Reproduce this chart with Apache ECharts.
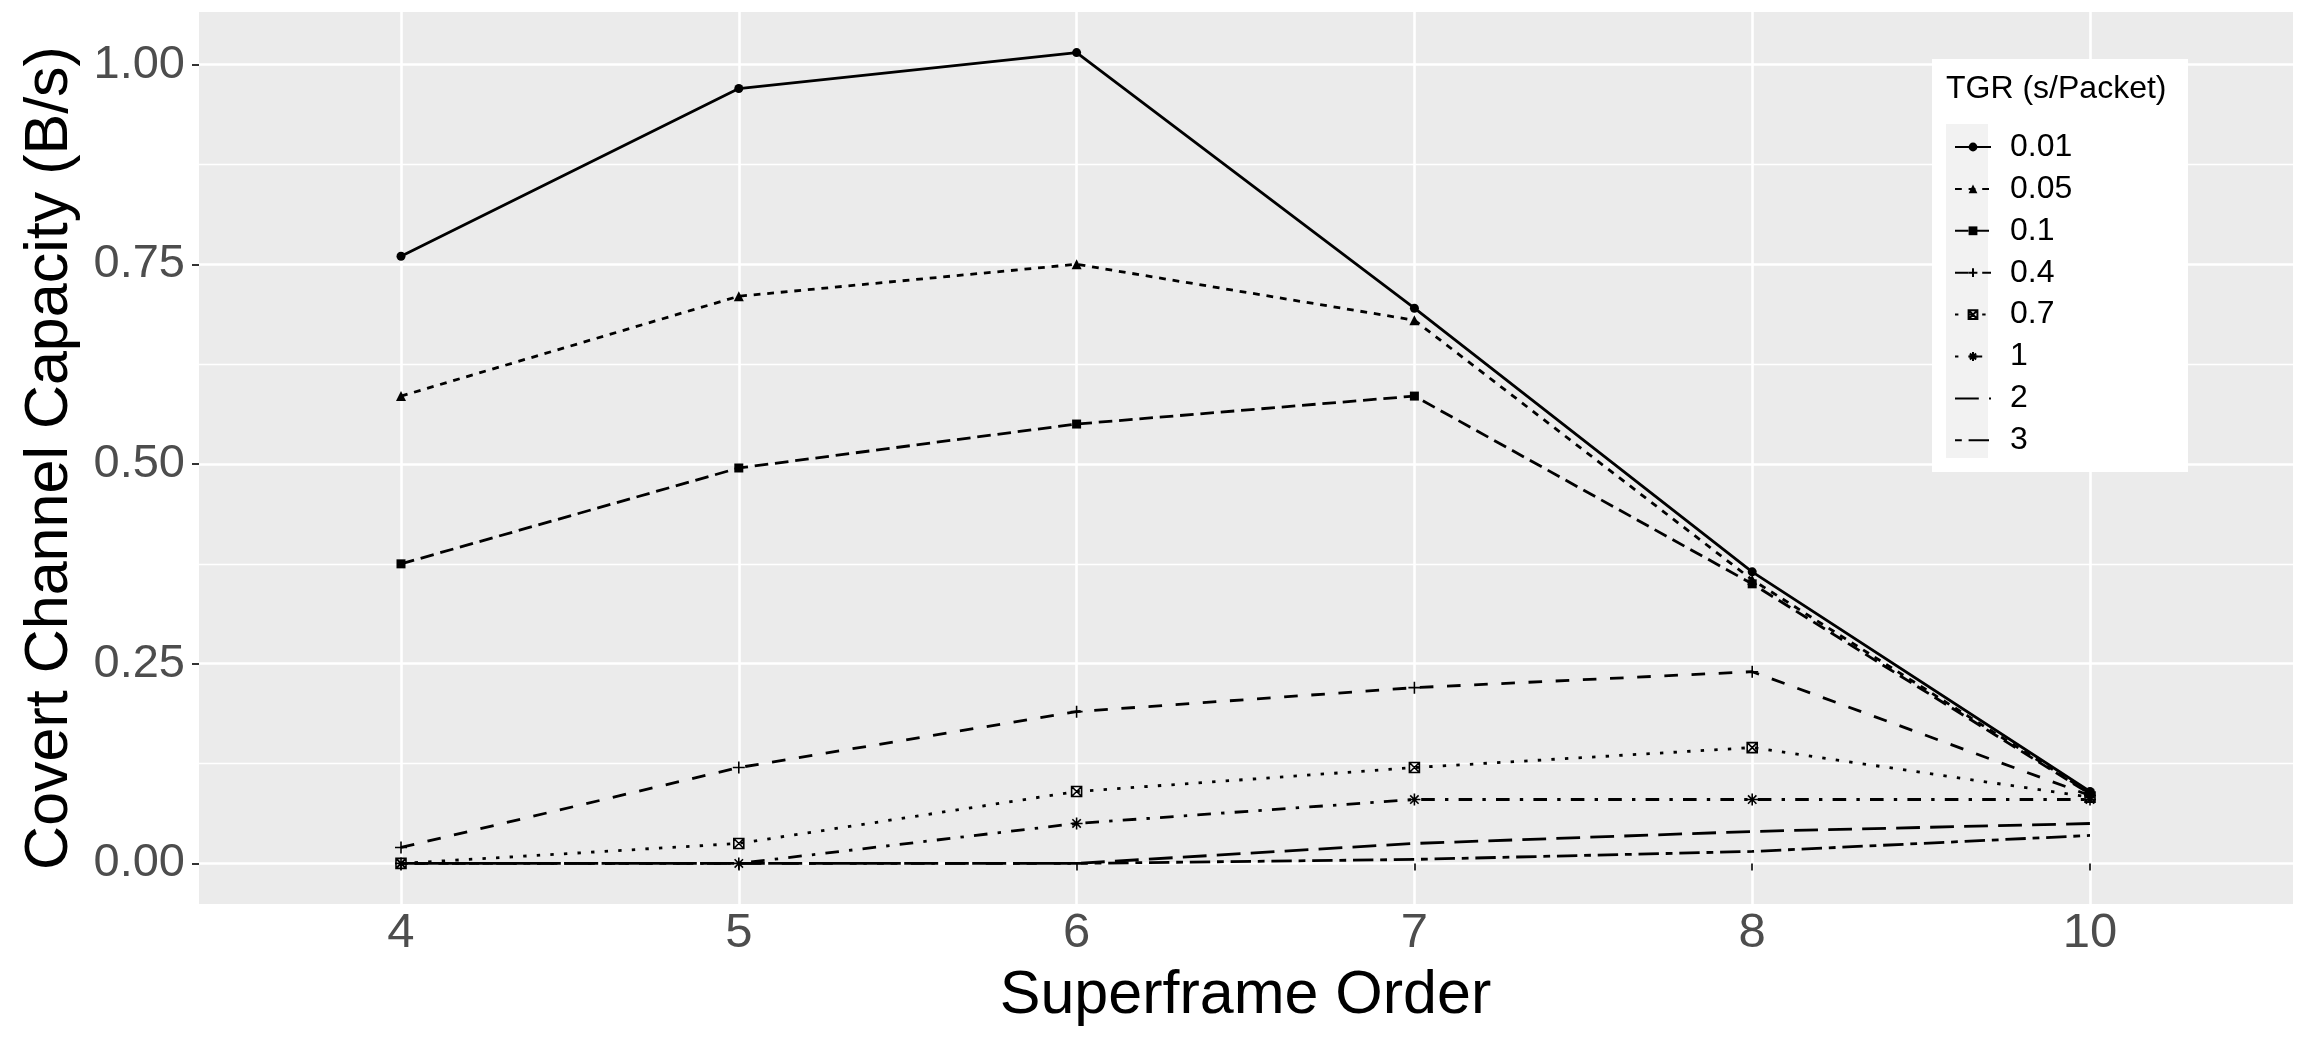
<!DOCTYPE html>
<html>
<head>
<meta charset="utf-8">
<script src="https://cdn.jsdelivr.net/npm/echarts@6/dist/echarts.min.js"></script>
<style>
html, body { margin: 0; padding: 0; background: #fff; }
#chart { width: 2315px; height: 1041px; }
</style>
</head>
<body>
<div id="chart"></div>
<script>
// superframe orders (discrete x axis)
const orders = ['4', '5', '6', '7', '8', '10'];
// TGR groups, one series each
const tgrNames = ['0.01', '0.05', '0.1', '0.4', '0.7', '1', '2', '3'];

const tgr001 = [0.76, 0.97, 1.015, 0.695, 0.365, 0.09];
const tgr005 = [0.585, 0.71, 0.75, 0.68, 0.355, 0.088];
const tgr01 = [0.375, 0.495, 0.55, 0.585, 0.35, 0.087];
const tgr04 = [0.02, 0.12, 0.19, 0.22, 0.24, 0.085];
const tgr07 = [0, 0.025, 0.09, 0.12, 0.145, 0.083];
const tgr1 = [0, 0, 0.05, 0.08, 0.08, 0.08];
const tgr2 = [0, 0, 0, 0.025, 0.04, 0.05];
const tgr3 = [0, 0, 0, 0.005, 0.015, 0.035];

const yTicks = [0, 0.25, 0.5, 0.75, 1];

const values = [tgr001, tgr005, tgr01, tgr04, tgr07, tgr1, tgr2, tgr3];

// ggplot-like range expansion (5% of data range)
const yMin = -0.0508, yMax = 1.0658;

const font = '"Liberation Sans", Arial, Helvetica, sans-serif';
const u = 3.4; // dash unit
const plusPath = 'path://M10,0L10,20M0,10L20,10';
const boxXPath = 'path://M0,0L20,0L20,20L0,20ZM0,0L20,20M0,20L20,0';
const starPath = 'path://M10,0L10,20M0,10L20,10M3,3L17,17M3,17L17,3';

const looks = [
  { dash: 'solid', symbol: 'circle', size: 9, stroke: false },
  { dash: [2 * u, 2 * u], symbol: 'triangle', size: 10, stroke: false },
  { dash: [4 * u, 2 * u], symbol: 'rect', size: 9, stroke: false },
  { dash: [4 * u, 4 * u], symbol: plusPath, size: 12, stroke: true },
  { dash: [1 * u, 3 * u], symbol: boxXPath, size: 10, stroke: true },
  { dash: [1 * u, 3 * u, 4 * u, 3 * u], symbol: starPath, size: 12, stroke: true },
  { dash: [7 * u, 3 * u], symbol: 'none', size: 0, stroke: false },
  { dash: [2 * u, 2 * u, 6 * u, 2 * u], symbol: 'none', size: 0, stroke: false }
];

const series = tgrNames.map((name, i) => {
  const lk = looks[i];
  return {
    name: name,
    type: 'line',
    xAxisIndex: 1,
    yAxisIndex: 1,
    data: values[i],
    symbol: lk.symbol,
    symbolSize: lk.size,
    showSymbol: lk.symbol !== 'none',
    clip: false,
    lineStyle: { color: '#000', width: 2.8, type: lk.dash, cap: 'butt' },
    itemStyle: lk.stroke
      ? { color: 'rgba(0,0,0,0)', borderColor: '#000', borderWidth: 1.6 }
      : { color: '#000', borderWidth: 0 },
    emphasis: { disabled: true },
    z: 2
  };
});

// legend entries: hide the marker for groups drawn without points
const legendData = tgrNames.map((name, i) => looks[i].symbol === 'none'
  ? { name: name, itemStyle: { color: 'rgba(0,0,0,0)', borderColor: 'rgba(0,0,0,0)', borderWidth: 0 } }
  : { name: name });

const chart = echarts.init(document.getElementById('chart'));
chart.setOption({
  animation: false,
  backgroundColor: '#fff',
  grid: [
    { left: 199, right: 22, top: 12, bottom: 137, show: true, backgroundColor: '#EBEBEB', borderWidth: 0 },
    { left: 401, right: 225, top: 12, bottom: 137 }
  ],
  title: {
    text: 'TGR (s/Packet)',
    left: 1946, top: 73, padding: 0,
    textStyle: { fontFamily: font, fontSize: 32, fontWeight: 'normal', color: '#000' },
    z: 10
  },
  legend: {
    orient: 'vertical',
    left: 1949, top: 126,
    itemWidth: 36, itemHeight: 11, itemGap: 9.9,
    selectedMode: false,
    data: legendData,
    textStyle: { fontFamily: font, fontSize: 32, color: '#000', padding: [0, 0, 0, 14] },
    z: 10
  },
  graphic: [
    { type: 'rect', z: 3, shape: { x: 1932, y: 59, width: 256, height: 413 }, style: { fill: '#fff' } },
    { type: 'rect', z: 4, shape: { x: 1946, y: 124, width: 42, height: 334 }, style: { fill: '#F2F2F2' } }
  ],
  xAxis: [
    { gridIndex: 0, type: 'value', min: 0, max: 1, show: false },
    {
      gridIndex: 1, type: 'category', data: orders, boundaryGap: false,
      name: 'Superframe Order', nameLocation: 'middle', nameGap: 62,
      nameTextStyle: { fontFamily: font, fontSize: 61, color: '#000' },
      axisLine: { show: false },
      axisTick: { show: true, length: 7, lineStyle: { color: '#333', width: 2 } },
      axisLabel: { fontFamily: font, fontSize: 49, color: '#4D4D4D', margin: 5 },
      splitLine: { show: true, lineStyle: { color: '#fff', width: 2.6 } }
    }
  ],
  yAxis: [
    {
      gridIndex: 0, type: 'value', min: yMin, max: yMax, minInterval: 0.25, maxInterval: 0.25,
      name: 'Covert Channel Capacity (B/s)', nameLocation: 'middle', nameGap: 118,
      nameTextStyle: { fontFamily: font, fontSize: 61, color: '#000' },
      axisLine: { show: false },
      axisTick: { show: true, length: 7, lineStyle: { color: '#333', width: 2 }, customValues: yTicks },
      axisLabel: {
        fontFamily: font, fontSize: 47, color: '#4D4D4D', margin: 14, customValues: yTicks,
        formatter: v => (Math.abs(v / 0.25 - Math.round(v / 0.25)) < 1e-6 ? v.toFixed(2) : '')
      },
      splitLine: { show: true, lineStyle: { color: '#fff', width: 2.6 } },
      minorTick: { show: false, splitNumber: 2 },
      minorSplitLine: { show: true, lineStyle: { color: '#fff', width: 1.3 } }
    },
    { gridIndex: 1, type: 'value', min: yMin, max: yMax, show: false }
  ],
  series: series
});
</script>
</body>
</html>
